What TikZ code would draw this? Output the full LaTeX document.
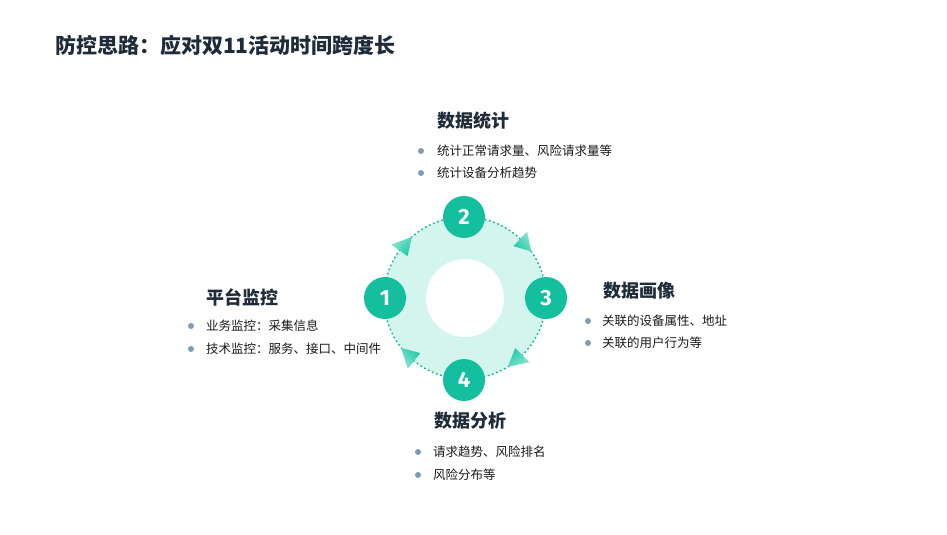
\documentclass[tikz,border=0pt]{standalone}
\usepackage{fontspec}
\usetikzlibrary{calc}
\setmainfont{Fira Sans}
\newfontfamily\cjk{Noto Sans CJK SC}
\newfontfamily\numf{Fira Sans}
\definecolor{teal1}{HTML}{13BF9E}
\definecolor{ringfill}{HTML}{D4F5EE}
\definecolor{dashc}{HTML}{14B898}
\definecolor{headc}{HTML}{1E2B38}
\definecolor{textc}{HTML}{1A1A1A}
\definecolor{bulc}{HTML}{7F9CB7}
\definecolor{arrl}{HTML}{8AE6D2}
\definecolor{arrd}{HTML}{22C9A6}
\tikzset{
  x=1pt, y=1pt,
  numcirc/.style={circle, fill=teal1, minimum size=42pt, inner sep=0pt, text=white, font=\numf\bfseries\fontsize{22}{22}\selectfont},
  heading/.style={anchor=west, inner sep=0pt, text=headc, font=\cjk\bfseries\fontsize{18}{18}\selectfont},
  item/.style={anchor=west, inner sep=0pt, text=textc, font=\cjk\fontsize{12.5}{12.5}\selectfont},
  bul/.style={circle, fill=bulc, minimum size=6pt, inner sep=0pt},
  titlestyle/.style={anchor=west, inner sep=0pt, text=headc, font=\cjk\bfseries\fontsize{21}{21}\selectfont}
}
\begin{document}
\begin{tikzpicture}
\useasboundingbox (0,0) rectangle (947,-535);
% title
\node[titlestyle] (title) at (55,-45) {防控思路：应对双11活动时间跨度长};
% ring
\coordinate (c) at (465,-298);
\fill[ringfill] (c) circle (81);
\fill[white] (c) circle (39);
\draw[dashc, line width=1.4pt, dash pattern=on 1.8pt off 2.6pt] (c) circle (81);
% arrowheads (clockwise)
\foreach \b/\t in {144/131, 47/35, -45/-58, -129/-142}{
  \pgfmathsetmacro{\sa}{(\b+\t)/2-90}
  \shade[left color=arrl, right color=arrd, shading angle=\sa]
    ($(c)+(\b:71)$) -- ($(c)+(\t:81)$) -- ($(c)+(\b:91)$) -- cycle;
}
% number circles
\node[numcirc] (n1) at (385,-298) {1};
\node[numcirc] (n2) at (464,-217) {2};
\node[numcirc] (n3) at (546,-298) {3};
\node[numcirc] (n4) at (464,-380) {4};
% block 2
\node[heading] (h2) at (437,-121) {数据统计};
\node[bul] (b21) at (421,-151) {};
\node[item] (t21) at (437,-151) {统计正常请求量、风险请求量等};
\node[bul] (b22) at (421,-173) {};
\node[item] (t22) at (437,-173) {统计设备分析趋势};
% block 1
\node[heading] (h1) at (206,-297) {平台监控};
\node[bul] (b11) at (191,-326) {};
\node[item] (t11) at (206,-326) {业务监控：采集信息};
\node[bul] (b12) at (191,-349) {};
\node[item] (t12) at (206,-349) {技术监控：服务、接口、中间件};
% block 3
\node[heading] (h3) at (603,-291) {数据画像};
\node[bul] (b31) at (588,-321) {};
\node[item] (t31) at (602,-321) {关联的设备属性、地址};
\node[bul] (b32) at (588,-343) {};
\node[item] (t32) at (602,-343) {关联的用户行为等};
% block 4
\node[heading] (h4) at (434,-421) {数据分析};
\node[bul] (b41) at (418,-452) {};
\node[item] (t41) at (433,-452) {请求趋势、风险排名};
\node[bul] (b42) at (418,-475) {};
\node[item] (t42) at (433,-475) {风险分布等};
\end{tikzpicture}
\end{document}
